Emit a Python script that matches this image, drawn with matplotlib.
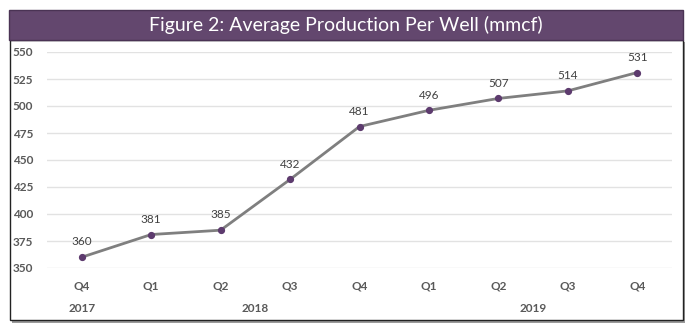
import matplotlib
matplotlib.use("Agg")
import matplotlib.pyplot as plt
import matplotlib.transforms as mtransforms
from matplotlib.patches import Rectangle

quarters = ["Q4", "Q1", "Q2", "Q3", "Q4", "Q1", "Q2", "Q3", "Q4"]
years = ["2017", "2018", "2019"]
year_spans = [(0, 0), (1, 4), (5, 8)]
values = [360, 381, 385, 432, 481, 496, 507, 514, 531]
yticks = [350, 375, 400, 425, 450, 475, 500, 525, 550]
title = "Figure 2: Average Production Per Well (mmcf)"

W, H = 692, 331
fig = plt.figure(figsize=(W / 100, H / 100), dpi=100)
fig.patch.set_facecolor("white")

def fx(px):
    return px / W

def fy(py):
    return 1 - py / H

# outer frame with shadow
fig.add_artist(Rectangle((fx(12), fy(323)), fx(673), 281 / H, transform=fig.transFigure,
                         facecolor="#9a9a9a", edgecolor="none", zorder=0))
fig.add_artist(Rectangle((fx(10), fy(320)), fx(673), 280 / H, transform=fig.transFigure,
                         facecolor="white", edgecolor="#222222", linewidth=1.0, zorder=1))
# title bar
fig.add_artist(Rectangle((fx(9), fy(40)), fx(674), 30 / H, transform=fig.transFigure,
                         facecolor="#63476e", edgecolor="#4a3354", linewidth=1.0, zorder=2))
fig.text(fx(346), fy(25), title, color="white", fontsize=14, family="Lato",
         ha="center", va="center", zorder=3)

ax = fig.add_axes([fx(47), fy(268), fx(672 - 47), (268 - 52) / H])
ax.set_zorder(4)
ax.patch.set_alpha(0)
x = list(range(len(values)))
ax.plot(x, values, color="#7f7f7f", linewidth=2.0, zorder=3)
ax.plot(x, values, linestyle="none", marker="o", markersize=4.2,
        markerfacecolor="#5d3b6e", markeredgecolor="#5d3b6e", zorder=4)
for xi, v in zip(x, values):
    ax.annotate(str(v), (xi, v), xytext=(0, 7), textcoords="offset points",
                ha="center", va="bottom", fontsize=8.5, color="#404040", family="Lato")

ax.set_xlim(-0.5, len(values) - 0.5)
ax.set_ylim(350, 550)
ax.set_yticks(yticks)
ax.set_yticklabels([str(t) for t in yticks], fontsize=8.5, fontweight="bold",
                   color="#595959", family="Lato")
ax.set_xticks(x)
ax.set_xticklabels(quarters, fontsize=8.5, fontweight="bold", color="#595959", family="Lato")
ax.tick_params(axis="both", length=0)
ax.tick_params(axis="x", pad=9)
ax.tick_params(axis="y", pad=10)
ax.grid(axis="y", color="#e2e2e2", linewidth=1.0)
ax.set_axisbelow(True)
for s in ax.spines.values():
    s.set_visible(False)

blend = mtransforms.blended_transform_factory(ax.transData, fig.transFigure)
for yr, (a, b) in zip(years, year_spans):
    ax.text((a + b) / 2, fy(309), yr, transform=blend,
            ha="center", va="center", fontsize=8.5, fontweight="bold", color="#595959",
            family="Lato")

fig.savefig("out.png", dpi=100)
